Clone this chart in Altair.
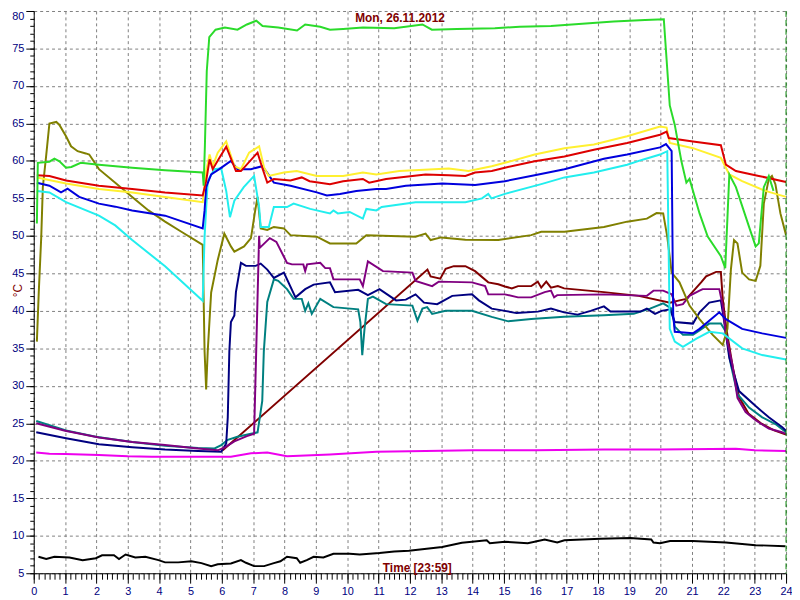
import altair as alt
import pandas as pd

# ---- data (hour of day, °C) ----
BLACK = [(0.15,7.2),(0.4,6.9),(0.66,7.2),(1.14,7.1),(1.56,6.75),(1.98,7.0),(2.18,7.4),(2.56,7.4),(2.72,6.9),
         (2.93,7.5),(3.24,7.1),(3.56,7.2),(3.98,6.75),(4.19,6.45),(4.61,6.45),(5.03,6.6),(5.35,6.35),(5.66,5.95),
         (5.87,6.2),(6.29,6.3),(6.61,6.75),(6.77,6.4),(7.03,5.95),(7.35,5.95),(7.66,6.35),(7.87,6.6),(8.08,7.2),
         (8.39,7.0),(8.5,6.4),(8.71,6.75),(8.93,7.2),(9.24,7.1),(9.56,7.6),(10.08,7.6),(10.4,7.5),(11.03,7.7),
         (11.5,7.9),(11.97,8.0),(13.03,8.5),(13.66,9.08),(14.45,9.4),(14.55,9.0),(15.03,9.2),(15.76,9.0),(16.3,9.5),
         (16.7,9.1),(16.93,9.4),(18.08,9.6),(19.03,9.7),(19.7,9.5),(19.77,9.1),(19.98,9.0),(20.3,9.3),(21.02,9.3),
         (22.08,9.1),(23.03,8.75),(23.98,8.6)]

MAGENTA = [(0.08,21.1),(0.5,20.94),(1.0,20.9),(2.08,20.77),(3.0,20.6),(3.77,20.55),(5.24,20.55),(6.29,20.55),
           (6.93,21.0),(7.45,21.1),(8.08,20.6),(9.45,20.85),(10.93,21.2),(12.5,21.3),(14.0,21.4),(16.0,21.4),
           (18.2,21.5),(20.0,21.5),(22.4,21.6),(23.0,21.4),(24.0,21.3)]

MAROON = [(6.03,21.4),(12.56,45.5),(12.66,44.6),(12.97,44.3),(13.14,45.6),(13.4,45.96),(13.77,45.96),(14.08,45.3),
          (14.5,43.8),(14.82,43.55),(15.03,43.25),(15.25,43.0),(15.45,43.3),(15.87,43.3),(16.08,43.9),(16.19,43.1),
          (16.35,43.9),(16.5,43.1),(16.72,43.3),(16.92,43.0),(18.19,42.5),(19.3,42.0),(20.3,41.1),(20.6,41.4),
          (20.82,41.6),(21.14,43.1),(21.29,43.8),(21.45,44.6),(21.77,45.2),(21.92,45.2),(21.98,41.6),(22.1,37.5),
          (22.3,32.5),(22.5,28.5),(22.8,26.3),(23.2,25.0),(23.6,24.1),(24.0,23.5)]

TEAL = [(0.08,25.3),(1.03,24.05),(1.98,23.2),(3.14,22.5),(4.19,22.0),(5.24,21.7),(5.77,21.65),(5.98,22.1),
        (6.19,22.8),(6.5,23.2),(6.93,23.6),(7.14,23.8),(7.29,28.0),(7.34,34.6),(7.45,41.2),(7.66,44.2),(7.8,44.0),
        (8.08,42.9),(8.29,41.6),(8.55,41.6),(8.66,40.0),(8.76,41.0),(8.87,39.6),(9.14,41.6),(9.56,40.5),
        (10.35,40.2),(10.42,38.5),(10.48,34.1),(10.55,37.5),(10.66,41.6),(10.82,41.9),(11.24,40.9),(12.08,40.7),
        (12.24,38.7),(12.4,40.3),(12.55,40.5),(12.71,39.6),(13.14,40.0),(13.98,40.0),(14.61,39.2),(15.14,38.6),
        (15.87,38.9),(16.92,39.2),(18.19,39.4),(19.14,39.6),(19.66,40.3),(20.08,41.0),(20.35,40.3),(20.45,37.9),
        (20.71,36.8),(21.03,36.8),(21.24,37.4),(21.55,38.3),(21.92,38.3),(22.08,37.2),(22.24,32.8),(22.45,28.9),
        (22.82,27.1),(23.24,25.8),(23.66,24.9),(24.0,23.8)]

NAVY = [(0.08,23.8),(1.03,23.0),(2.08,22.2),(3.14,21.8),(4.19,21.5),(5.24,21.3),(5.98,21.2),(6.14,22.3),
        (6.19,25.8),(6.24,34.6),(6.29,38.5),(6.4,39.4),(6.45,42.5),(6.61,46.4),(6.77,46.0),(7.08,46.0),(7.24,46.3),
        (7.45,45.5),(7.66,44.4),(7.98,45.1),(8.35,41.8),(8.66,42.9),(8.93,43.5),(9.45,43.8),(9.61,42.5),
        (10.35,42.8),(10.66,42.1),(11.03,42.9),(11.56,41.4),(11.87,41.5),(12.18,42.2),(12.45,41.1),(12.87,40.9),
        (13.35,42.0),(13.98,42.2),(14.2,41.4),(14.61,40.3),(15.03,40.0),(15.4,39.7),(16.08,39.9),(16.5,40.3),
        (16.92,39.8),(17.35,39.5),(17.77,40.0),(18.19,40.6),(18.4,39.9),(19.35,39.9),(19.56,40.3),(19.82,39.6),
        (20.03,40.0),(20.3,40.2),(20.45,38.5),(21.03,38.3),(21.24,39.8),(21.55,41.1),(21.92,41.4),(22.03,38.5),
        (22.19,33.7),(22.5,29.3),(23.03,27.3),(23.45,25.8),(23.87,24.5),(24.0,24.0)]

PURPLE = [(0.08,25.0),(1.0,24.0),(2.08,23.1),(3.14,22.5),(4.19,22.1),(5.24,21.65),(5.87,21.4),(6.1,21.8),
          (6.4,22.6),(6.8,23.3),(7.03,23.6),(7.19,50.0),(7.21,48.4),(7.53,49.7),(7.74,49.2),(8.08,46.4),
          (8.24,46.2),(8.6,46.2),(8.66,45.3),(8.72,46.2),(9.14,46.4),(9.3,45.7),(9.45,45.7),(9.56,44.2),
          (10.4,44.2),(10.5,43.3),(10.66,46.6),(11.14,45.3),(12.08,45.1),(12.18,44.0),(12.71,43.3),(12.92,43.9),
          (13.98,43.8),(14.4,43.3),(14.5,42.2),(15.03,42.2),(15.45,41.8),(15.87,41.8),(16.3,42.5),(16.5,42.7),
          (16.6,41.8),(16.7,42.1),(18.19,42.2),(19.56,42.0),(19.77,42.7),(20.08,42.7),(20.35,42.2),(20.5,40.7),
          (20.71,40.9),(20.92,42.0),(21.24,42.7),(21.34,42.9),(21.87,42.9),(21.98,40.7),(22.08,36.8),(22.29,32.8),
          (22.45,28.4),(22.71,26.5),(23.03,25.4),(23.45,24.3),(23.87,23.8),(24.0,23.6)]

OLIVE = [(0.1,35.9),(0.16,42.45),(0.24,49.9),(0.29,56.5),(0.4,60.85),(0.5,65.0),(0.72,65.2),(0.82,64.8),
         (1.03,63.3),(1.19,61.95),(1.4,61.3),(1.66,61.0),(1.77,60.85),(2.08,58.9),(2.6,57.1),(3.14,55.2),
         (3.66,53.4),(4.19,51.9),(4.71,50.55),(5.39,48.8),(5.45,34.6),(5.5,29.5),(5.55,34.6),(5.66,42.45),
         (5.87,46.8),(6.08,50.3),(6.29,48.6),(6.4,47.9),(6.71,48.6),(6.93,49.7),(7.05,53.0),(7.14,55.2),
         (7.24,51.0),(7.45,50.8),(7.66,51.2),(7.98,51.0),(8.19,50.1),(9.03,49.9),(9.45,49.0),(10.29,49.0),
         (10.61,50.1),(12.18,49.9),(12.5,50.3),(12.66,49.45),(13.0,49.8),(13.77,49.5),(14.82,49.45),(15.87,50.1),
         (16.19,50.55),(16.93,50.55),(18.19,51.2),(18.93,51.9),(19.56,52.3),(19.87,53.05),(20.08,53.0),
         (20.21,49.9),(20.35,45.1),(20.6,43.8),(20.92,40.7),(21.24,38.9),(21.66,36.8),(21.98,35.45),(22.13,37.6),
         (22.24,45.5),(22.34,49.45),(22.45,49.0),(22.6,45.1),(22.82,44.2),(23.03,44.0),(23.18,46.0),(23.29,54.3),
         (23.45,57.6),(23.55,58.0),(23.66,56.9),(23.82,53.0),(24.0,50.1)]

CYAN = [(0.1,56.0),(0.5,55.8),(1.03,54.5),(2.08,52.7),(2.6,51.4),(3.14,49.45),(4.19,45.95),(5.39,41.35),
        (5.45,49.9),(5.55,57.3),(5.76,58.9),(5.98,59.0),(6.14,56.0),(6.26,52.5),(6.4,54.7),(6.7,56.5),(7.03,58.0),
        (7.19,53.85),(7.24,51.2),(7.5,51.2),(7.66,53.85),(8.08,53.85),(8.29,54.3),(8.82,53.6),(9.45,53.0),
        (9.56,53.4),(9.7,53.0),(10.08,53.2),(10.5,52.3),(10.61,53.6),(10.93,53.4),(11.1,53.85),(12.18,54.5),
        (13.77,54.5),(14.3,55.0),(14.5,55.6),(14.6,55.0),(15.03,55.6),(16.19,56.9),(16.93,57.8),(17.87,58.45),
        (18.93,59.5),(19.45,60.2),(19.98,60.85),(20.21,61.3),(20.29,37.6),(20.45,35.9),(20.71,35.2),(21.14,36.3),
        (21.55,37.2),(21.98,37.0),(22.6,35.0),(23.24,34.1),(24.0,33.5)]

BLUE = [(0.1,57.1),(0.5,56.7),(0.87,55.8),(1.08,56.3),(1.45,55.2),(2.08,54.3),(2.6,53.9),(3.14,53.4),(4.19,52.7),
        (5.39,51.0),(5.45,53.4),(5.5,56.5),(5.66,58.2),(5.92,58.9),(6.29,60.0),(6.5,58.9),(6.93,58.9),(7.29,59.3),
        (7.45,58.4),(7.66,57.1),(8.19,56.7),(9.03,55.8),(9.35,55.4),(9.77,55.6),(10.29,56.0),(10.93,56.25),
        (11.24,56.25),(11.87,56.7),(13.03,57.0),(14.08,56.8),(15.03,57.3),(15.98,58.1),(16.93,58.9),(18.19,60.3),
        (18.93,60.85),(19.98,61.8),(20.17,62.25),(20.35,61.3),(20.4,39.4),(20.45,37.2),(21.03,37.0),(21.24,37.6),
        (21.87,39.8),(22.08,38.9),(22.6,37.6),(23.24,37.0),(24.0,36.4)]

YELLOW = [(0.1,57.8),(1.03,57.0),(2.08,56.25),(3.14,55.8),(4.19,55.2),(5.39,54.5),(5.5,58.65),(5.61,60.85),
          (5.71,59.3),(5.87,61.1),(6.14,62.6),(6.4,59.3),(6.61,58.9),(6.87,61.1),(7.19,61.95),(7.35,59.1),
          (7.5,58.0),(7.98,58.45),(8.39,58.65),(9.03,58.0),(9.87,58.0),(10.5,58.45),(10.93,58.2),(11.66,58.65),
          (13.24,59.0),(13.87,58.65),(14.61,59.3),(15.03,59.75),(15.98,60.85),(16.93,61.7),(17.87,62.2),
          (18.93,63.3),(19.98,64.6),(20.19,64.45),(20.29,62.4),(21.03,61.7),(21.92,60.4),(22.19,58.2),(22.6,57.3),
          (23.34,56.0),(24.0,55.2)]

RED = [(0.1,58.1),(0.5,58.0),(1.03,57.4),(2.08,56.7),(3.14,56.25),(4.19,55.8),(5.39,55.4),(5.5,57.3),(5.61,60.2),
       (5.71,58.9),(5.92,60.4),(6.14,61.9),(6.45,58.65),(6.61,58.65),(7.14,61.1),(7.29,59.1),(7.45,57.1),
       (7.66,57.6),(8.19,57.4),(8.55,57.8),(8.8,57.3),(9.45,56.9),(9.87,57.3),(10.5,57.6),(10.7,57.1),(11.24,57.6),
       (12.5,58.2),(13.24,58.1),(13.77,58.0),(14.08,58.45),(14.61,58.65),(15.03,59.1),(15.98,59.95),(16.93,60.6),
       (17.87,61.5),(18.93,62.4),(19.98,63.5),(20.19,63.9),(20.26,63.05),(21.03,62.6),(21.92,62.1),(22.08,59.5),
       (22.4,58.65),(23.13,58.0),(24.0,57.2)]

GREEN = [(0.1,51.65),(0.13,59.75),(0.5,59.9),(0.66,60.3),(0.82,59.95),(1.03,59.1),(1.2,59.2),(1.5,59.75),
         (2.08,59.5),(3.14,59.1),(4.19,58.75),(5.39,58.45),(5.42,56.7),(5.46,62.0),(5.52,72.0),(5.6,76.5),
         (5.8,77.5),(6.1,77.8),(6.5,77.5),(6.8,78.2),(7.1,78.7),(7.3,78.0),(7.8,77.8),(8.4,77.4),(8.66,78.2),
         (9.14,77.9),(9.45,77.5),(9.87,77.6),(10.5,77.8),(11.5,77.7),(12.4,78.2),(12.7,77.5),(13.5,77.6),
         (14.71,77.7),(15.5,77.9),(16.5,78.0),(17.5,78.3),(18.5,78.6),(19.5,78.8),(20.1,78.9),(20.29,67.4),
         (20.45,64.8),(20.66,60.0),(20.82,57.1),(20.92,57.6),(21.24,53.0),(21.5,49.9),(21.92,47.3),(22.06,45.7),
         (22.19,58.2),(22.4,56.5),(22.82,51.2),(23.03,48.6),(23.13,49.0),(23.29,56.5),(23.45,58.0),(23.6,56.0)]

# draw order (first = bottom), colours
SERIES = [
    ("black", "#000000", BLACK),
    ("magenta", "#EE00EE", MAGENTA),
    ("maroon", "#800000", MAROON),
    ("teal", "#008080", TEAL),
    ("navy", "#000080", NAVY),
    ("purple", "#800080", PURPLE),
    ("olive", "#808000", OLIVE),
    ("cyan", "#22EEEE", CYAN),
    ("blue", "#0000DD", BLUE),
    ("yellow", "#FFF030", YELLOW),
    ("red", "#DD0000", RED),
    ("green", "#2BDB2B", GREEN),
]

HOURS = list(range(0, 25))
MINOR_X = [i / 6 for i in range(0, 145)]
Y_MAJOR = list(range(5, 81, 5))
Y_MINOR = list(range(5, 81))
NOW = [24]

rows = []
for name, col, pts in SERIES:
    for i, (t, v) in enumerate(pts):
        rows.append({"series": name, "t": t, "v": v, "i": i})
df = pd.DataFrame(rows)

names = [s[0] for s in SERIES]
colors = [s[1] for s in SERIES]

FONT = "Liberation Sans"
W, H = 760, 568
xs = alt.Scale(domain=[0, 24], nice=False, zero=False)
ys = alt.Scale(domain=[5, 80], nice=False, zero=False)

x_major = alt.Axis(values=HOURS, tickSize=10, labelFontSize=11, labelColor="#000080", labelFont=FONT,
                   labelPadding=2, labelFlush=False, labelOverlap=False, format="d",
                   domainColor="#000000", tickColor="#000000",
                   grid=True, gridDash=[3, 3], gridColor="#808080", gridOpacity=1,
                   title="Time [23:59]", titleColor="#800000", titleFont=FONT, titleFontSize=12,
                   titleFontWeight="bold", titleX=387, titleY=-6, titleBaseline="middle", orient="bottom")
y_major = alt.Axis(values=Y_MAJOR, tickSize=8, labelFontSize=11, labelColor="#000080", labelFont=FONT,
                   labelPadding=2, labelFlush=False, labelOverlap=False, format="d",
                   labelOffset=alt.ExprRef("datum.value == 80 ? 6 : 0"),
                   domainColor="#000000", tickColor="#000000",
                   grid=True, gridDash=[3, 3], gridColor="#808080", gridOpacity=1,
                   title="°C", titleColor="#800000", titleFont=FONT, titleFontSize=12,
                   titleFontWeight="normal", titleX=-16, titleY=282, titleAngle=270,
                   titleBaseline="middle", orient="left")
x_minor = alt.Axis(values=MINOR_X, tickSize=6, labels=False, domain=False, grid=False, title=None,
                   tickColor="#000000", orient="bottom")
y_minor = alt.Axis(values=Y_MINOR, tickSize=4, labels=False, domain=False, grid=False, title=None,
                   tickColor="#000000", orient="left")

minor = alt.Chart(df).mark_point(opacity=0).encode(
    x=alt.X("t:Q", scale=xs, axis=x_minor),
    y=alt.Y("v:Q", scale=ys, axis=y_minor),
)

lines = alt.Chart(df).mark_line(strokeWidth=2, clip=True).encode(
    x=alt.X("t:Q", scale=xs, axis=x_major),
    y=alt.Y("v:Q", scale=ys, axis=y_major),
    color=alt.Color("series:N", scale=alt.Scale(domain=names, range=colors), legend=None),
    order=alt.Order("i:Q"),
)

now = alt.Chart(pd.DataFrame({"t": NOW})).mark_rule(color="#008000", strokeDash=[6, 3], strokeWidth=1).encode(
    x=alt.X("t:Q", scale=xs, axis=None),
)

chart = alt.layer(minor, lines, now).resolve_axis(x="independent", y="independent").properties(
    width=W, height=H,
    title=alt.TitleParams("Mon, 26.11.2012", color="#800000", fontSize=12, fontWeight="bold", font=FONT,
                          offset=-15, dx=-10, anchor="middle"),
    autosize=alt.AutoSizeParams(type="none"),
    padding={"left": 26, "top": 0, "right": 6, "bottom": 24},
    background="#FFFFFF",
).configure_view(stroke="transparent")

chart.save("out.html", embed_options={"renderer": "svg", "actions": False})
